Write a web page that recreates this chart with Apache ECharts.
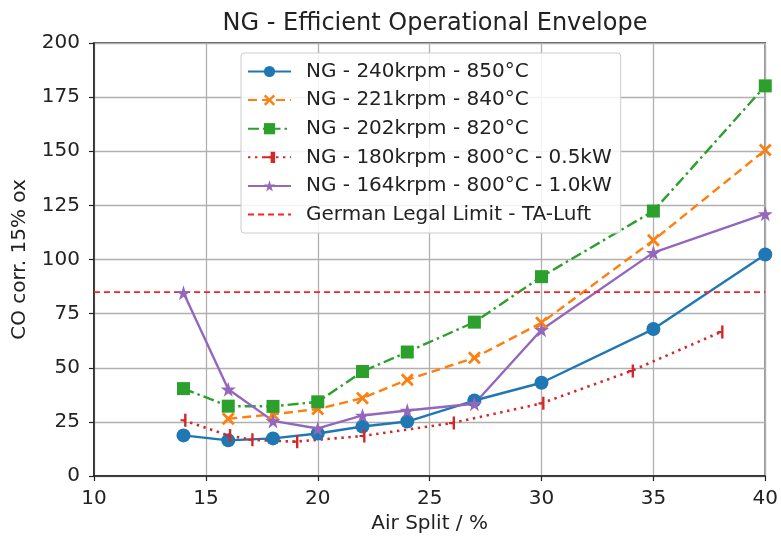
<!DOCTYPE html>
<html>
<head>
<meta charset="utf-8">
<script src="https://cdn.jsdelivr.net/npm/echarts@6/dist/echarts.min.js"></script>
<style>
  html, body { margin: 0; padding: 0; background: #fff; }
  #chart { width: 781px; height: 539px; }
</style>
</head>
<body>
<div id="chart"></div>
<script>
// Air split (%) against corrected CO emissions for each operating point
const xTicks = [10, 15, 20, 25, 30, 35, 40];
const yTicks = [0, 25, 50, 75, 100, 125, 150, 175, 200];

const split240 = [14, 16, 18, 20, 22, 24, 27, 30, 35, 40];
const co240    = [18.8, 16.5, 17.4, 19.7, 22.9, 25.2, 34.9, 43.1, 67.9, 102.3];

const split221 = [16, 18, 20, 22, 24, 27, 30, 35, 40];
const co221    = [26.5, 28.5, 31, 36, 44.5, 54.6, 70.8, 108.9, 150.6];

const split202 = [14, 16, 18, 20, 22, 24, 27, 30, 35, 40];
const co202    = [40.4, 32.3, 32.2, 34.3, 48.3, 57.3, 71.1, 92.1, 122.4, 180.2];

const split180 = [14, 16, 17, 19, 22, 26, 30, 34, 38];
const co180    = [25.8, 18.8, 16.8, 15.9, 18.5, 24.5, 33.6, 48.5, 66.5];

const split164 = [14, 16, 18, 20, 22, 24, 27, 30, 35, 40];
const co164    = [84.7, 40.1, 25.5, 22.0, 28.0, 30.3, 33.4, 67.6, 103.2, 121.1];

const legalLimit = 85;

const names = [
  'NG - 240krpm - 850°C',
  'NG - 221krpm - 840°C',
  'NG - 202krpm - 820°C',
  'NG - 180krpm - 800°C - 0.5kW',
  'NG - 164krpm - 800°C - 1.0kW',
  'German Legal Limit - TA-Luft'
];

const zip = (xs, ys) => xs.map((x, i) => [x, ys[i]]);

const FONT = 'DejaVu Sans';
const TXT = '#222';

const crossPath = 'path://M1.5,0 L5,3.5 L8.5,0 L10,1.5 L6.5,5 L10,8.5 L8.5,10 L5,6.5 L1.5,10 L0,8.5 L3.5,5 L0,1.5 Z';
const tickPath  = 'path://M3,0 L5,0 L5,12 L3,12 Z M0,5 L3,5 L3,7 L0,7 Z';
const starPath  = 'path://M50,0 L61,35 L98,35 L68,57 L79,91 L50,70 L21,91 L32,57 L2,35 L39,35 Z';

const chart = echarts.init(document.getElementById('chart'), null, { renderer: 'canvas' });

chart.setOption({
  animation: false,
  backgroundColor: '#fff',
  title: {
    text: 'NG - Efficient Operational Envelope',
    left: 430,
    top: 7,
    textAlign: 'center',
    textStyle: { fontFamily: FONT, fontSize: 24, fontWeight: 'normal', color: TXT }
  },
  grid: {
    left: 94, right: 14, top: 43, bottom: 60,
    show: true, borderColor: '#222', borderWidth: 1.5, backgroundColor: 'transparent'
  },
  legend: {
    orient: 'vertical',
    left: 241,
    top: 53,
    padding: [7, 9, 7, 6],
    itemWidth: 43,
    itemHeight: 14,
    itemGap: 5.6,
    backgroundColor: 'rgba(255,255,255,0.85)',
    borderColor: '#cccccc',
    borderWidth: 1,
    borderRadius: 3,
    textStyle: { fontFamily: FONT, fontSize: 20, color: TXT, lineHeight: 23, padding: [0, 0, 0, 10] },
    data: [
      names[0], names[1], names[2], names[3], names[4],
      { name: names[5], itemStyle: { color: 'rgba(0,0,0,0)', borderColor: 'rgba(0,0,0,0)', borderWidth: 0 } }
    ]
  },
  xAxis: {
    type: 'value',
    min: xTicks[0], max: xTicks[xTicks.length - 1], interval: 5,
    name: 'Air Split / %',
    nameLocation: 'middle',
    nameGap: 32,
    nameTextStyle: { fontFamily: FONT, fontSize: 20, color: TXT },
    axisLine: { show: true, lineStyle: { color: '#222', width: 1.5 } },
    axisTick: { show: true, length: 5, lineStyle: { color: '#222', width: 1.2 } },
    axisLabel: { fontFamily: FONT, fontSize: 20, color: TXT, margin: 13 },
    splitLine: { show: true, lineStyle: { color: '#b0b0b0', width: 1.3 } }
  },
  yAxis: {
    type: 'value',
    min: yTicks[0], max: yTicks[yTicks.length - 1], interval: 25,
    name: 'CO corr. 15% ox',
    nameLocation: 'middle',
    nameRotate: 90,
    nameGap: 64,
    nameTextStyle: { fontFamily: FONT, fontSize: 20, color: TXT },
    axisLine: { show: true, lineStyle: { color: '#222', width: 1.5 } },
    axisTick: { show: true, length: 5, lineStyle: { color: '#222', width: 1.2 } },
    axisLabel: { fontFamily: FONT, fontSize: 20, color: TXT, margin: 14 },
    splitLine: { show: true, lineStyle: { color: '#b0b0b0', width: 1.3 } }
  },
  series: [
    {
      name: names[0], type: 'line', data: zip(split240, co240),
      symbol: 'circle', symbolSize: 14,
      lineStyle: { color: '#1f77b4', width: 2.4 },
      itemStyle: { color: '#1f77b4' }
    },
    {
      name: names[1], type: 'line', data: zip(split221, co221),
      symbol: crossPath, symbolSize: 13,
      lineStyle: { color: '#ff7f0e', width: 2.4, type: [9, 5] },
      itemStyle: { color: '#ff7f0e' }
    },
    {
      name: names[2], type: 'line', data: zip(split202, co202),
      symbol: 'rect', symbolSize: 13,
      lineStyle: { color: '#2ca02c', width: 2.4, type: [11, 4, 2.5, 4] },
      itemStyle: { color: '#2ca02c' }
    },
    {
      name: names[3], type: 'line', data: zip(split180, co180),
      symbol: tickPath, symbolSize: [6, 13],
      lineStyle: { color: '#d62728', width: 2.6, type: [2.4, 4.6] },
      itemStyle: { color: '#d62728' }
    },
    {
      name: names[4], type: 'line', data: zip(split164, co164),
      symbol: starPath, symbolSize: 15,
      lineStyle: { color: '#9467bd', width: 2.4 },
      itemStyle: { color: '#9467bd' }
    },
    {
      name: names[5], type: 'line',
      data: [[xTicks[0], legalLimit], [xTicks[xTicks.length - 1], legalLimit]],
      symbol: 'none',
      lineStyle: { color: '#ff2020', width: 1.8, type: [6, 4] },
      itemStyle: { color: '#ff2020' }
    }
  ]
});
</script>
</body>
</html>
